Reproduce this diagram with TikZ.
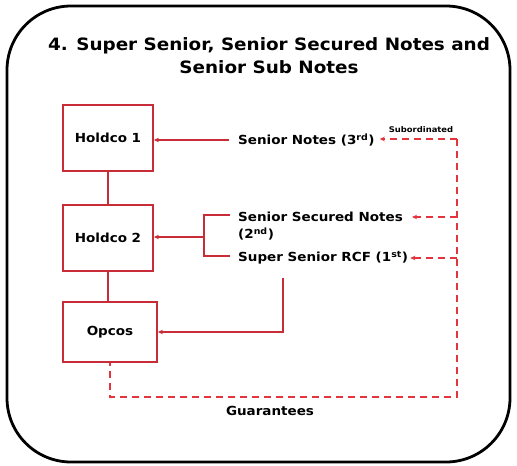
\documentclass[tikz,border=0pt]{standalone}
\usepackage{fontspec}
\setmainfont{DejaVu Sans}[FakeStretch=1.08]
\usetikzlibrary{arrows.meta}
\definecolor{boxred}{RGB}{200,45,55}
\definecolor{dashred}{RGB}{228,52,62}
\newcommand{\ord}[1]{\textsuperscript{#1}}
\begin{document}
\begin{tikzpicture}[x=1pt,y=-1pt,
  entity/.style={draw=boxred,line width=1.8pt,minimum width=90pt,minimum height=66pt,
    font=\bfseries\fontsize{12.5}{14}\selectfont,inner sep=0pt},
  label/.style={font=\bfseries\fontsize{12.5}{15}\selectfont,inner sep=0pt,anchor=west},
  link/.style={draw=boxred,line width=1.8pt},
  tip/.style={-{Stealth[length=5pt,width=4.5pt]}},
  subline/.style={draw=dashred,line width=1.8pt,dash pattern=on 7pt off 5pt}]
\useasboundingbox (0,0) rectangle (517,466);
% outer frame
\draw[line width=2.8pt,rounded corners=64pt] (7,6) rectangle (510,462);
% title
\node[font=\bfseries\fontsize{17}{23}\selectfont,align=center] (title) at (269,56)
  {4. Super Senior, Senior Secured Notes and\\Senior Sub Notes};
% entities
\node[entity] (h1) at (108,138) {Holdco 1};
\node[entity] (h2) at (108,238) {Holdco 2};
\node[entity,minimum width=94pt,minimum height=60pt] (op) at (110,332) {Opcos};
\draw[link] (h1.south) -- (h2.north);
\draw[link] (h2.south) -- (h2.south |- op.north);
% debt labels
\node[label] (sn) at (238,140) {Senior Notes (3\ord{rd})};
\node[label] (ssn) at (238,217) {Senior Secured Notes};
\node[label] (ssn2) at (238,234) {(2\ord{nd})};
\node[label] (rcf) at (238,258) {Super Senior RCF (1\ord{st})};
\node[font=\bfseries\fontsize{7.8}{9}\selectfont,inner sep=0pt] (subo) at (421,130) {Subordinated};
\node[font=\bfseries\fontsize{12.5}{14}\selectfont,inner sep=0pt] (guar) at (270,411) {Guarantees};
% solid connectors
\coordinate (bt) at (204,215);
\coordinate (bb) at (204,256);
\coordinate (bm) at (204,237);
\coordinate (rdrop) at (283,278);
\draw[link,tip] ([xshift=-9pt]sn.west) -- (h1.east |- sn.west);
\draw[link] ([xshift=-8pt]ssn.west |- bt) -- (bt) -- (bb) -- ([xshift=-8pt]rcf.west |- bb);
\draw[link,tip] (bm) -- (h2.east |- bm);
\draw[link,tip] (rdrop) -- (rdrop |- op.east) -- (op.east);
% dashed subordination / guarantees
\coordinate (r1) at (457,139);
\coordinate (r2) at (457,217);
\coordinate (r3) at (457,258);
\coordinate (rb) at (457,397);
\draw[subline,tip] (r1) -- ([xshift=5pt]sn.east |- r1);
\draw[subline,tip] (r2) -- ([xshift=9pt]ssn.east |- r2);
\draw[subline,tip] (r3) -- ([xshift=2pt]rcf.east |- r3);
\draw[subline] (r1) -- (rb) -- (rb -| op.south) -- (op.south);
\end{tikzpicture}
\end{document}
